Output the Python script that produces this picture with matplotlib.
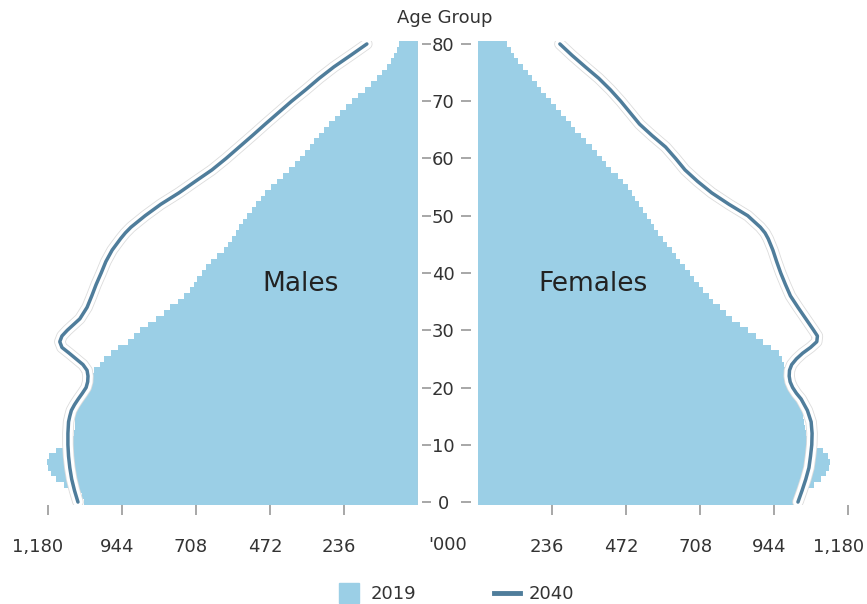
import matplotlib
matplotlib.use("Agg")
import matplotlib.pyplot as plt
import matplotlib.patheffects as pe
import matplotlib.transforms as mtransforms
from matplotlib.lines import Line2D

# ---------------- data ----------------
ages = list(range(0, 81))

males_2019 = [1065, 1070, 1085, 1130, 1155, 1170, 1180, 1182, 1175, 1155,
              1120, 1100, 1098, 1095, 1095, 1093, 1090, 1087, 1080, 1072,
              1062, 1052, 1042, 1032, 1015, 1000, 980, 955, 925, 905,
              885, 860, 835, 810, 790, 765, 745, 728, 715, 705,
              690, 675, 660, 640, 620, 605, 592, 580, 570, 558,
              545, 530, 515, 500, 488, 470, 450, 430, 410, 392,
              375, 360, 345, 330, 315, 300, 285, 265, 250, 230,
              210, 190, 170, 150, 130, 115, 100, 85, 75, 68, 61]

females_2019 = [1010, 1015, 1030, 1070, 1095, 1110, 1120, 1122, 1115, 1100,
                1070, 1048, 1045, 1043, 1040, 1036, 1032, 1027, 1020, 1012,
                1005, 998, 990, 983, 976, 968, 958, 935, 910, 885,
                860, 835, 810, 790, 770, 750, 735, 718, 705, 690,
                675, 660, 645, 632, 618, 603, 590, 575, 562, 550,
                538, 525, 512, 500, 490, 478, 462, 445, 425, 408,
                395, 380, 362, 345, 328, 310, 295, 280, 265, 250,
                232, 218, 202, 188, 172, 158, 142, 128, 115, 105, 92]

line_ages = [0, 2, 4, 6, 8, 10, 12, 14, 15, 16, 17, 18, 19, 20, 21, 22, 23, 24,
             25, 26, 27, 28, 29, 30, 32, 34, 36, 38, 40, 42, 44, 46, 47, 48, 50,
             52, 54, 56, 58, 60, 62, 64, 66, 68, 70, 72, 74, 76, 78, 80]

males_2040 = [1084, 1095, 1104, 1110, 1114, 1116, 1116, 1114, 1110, 1105, 1095, 1083, 1070, 1058, 1053, 1052, 1055, 1068,
              1090, 1112, 1135, 1142, 1135, 1118, 1078, 1055, 1040, 1026, 1010, 995, 975, 948, 933, 915, 870,
              820, 762, 710, 657, 612, 570, 528, 487, 445, 403, 358, 315, 268, 215, 163]

females_2040 = [1020, 1033, 1045, 1055, 1060, 1064, 1065, 1062, 1056, 1050, 1040, 1030, 1015, 1003, 995, 992, 993, 1000,
                1015, 1035, 1060, 1080, 1082, 1070, 1045, 1020, 996, 980, 965, 952, 940, 925, 915, 900, 860,
                800, 745, 700, 660, 630, 598, 555, 515, 485, 455, 422, 385, 342, 300, 261]

xticks = [236, 472, 708, 944, 1180]
xtick_labels = ["236", "472", "708", "944", "1,180"]
yticks = [0, 10, 20, 30, 40, 50, 60, 70, 80]

# ---------------- style ----------------
BAR = "#9bcfe6"
LINE = "#4f7d9b"
TXT = "#333333"
TICK = "#a0a0a0"
plt.rcParams["font.family"] = ["DejaVu Sans"]

W, H = 867, 604
fig = plt.figure(figsize=(W / 100, H / 100), dpi=100)

y0_px, y1_px = 504.9, 41.1
bottom = (H - y0_px) / H
height = (y0_px - y1_px) / H
xmax = 1205

axL = fig.add_axes([40 / W, bottom, 378 / W, height])
axR = fig.add_axes([478 / W, bottom, 378 / W, height])

outline = [pe.Stroke(linewidth=8.2, foreground="#dcdcdc"),
           pe.Stroke(linewidth=7.0, foreground="white"),
           pe.Normal()]

for ax, bars, line in ((axL, males_2019, males_2040), (axR, females_2019, females_2040)):
    ax.barh(ages, bars, height=1.0, color=BAR, edgecolor="none", zorder=1)
    ax.plot(line, line_ages, color=LINE, lw=2.5, solid_capstyle="round",
            solid_joinstyle="round", path_effects=outline, zorder=3)
    ax.set_ylim(-0.5, 80.5)
    for s in ax.spines.values():
        s.set_visible(False)
    ax.set_xticks(xticks)
    ax.set_xticklabels(xtick_labels)
    ax.tick_params(axis="x", direction="out", length=7, width=1.3, color=TICK,
                   pad=17, labelsize=13, labelcolor=TXT)
    ax.set_yticks(yticks)
    for lab in ax.get_xticklabels():
        dx = -10 if lab.get_text() == "1,180" else -5
        lab.set_transform(lab.get_transform() +
                          mtransforms.ScaledTranslation(dx / 100, 0, fig.dpi_scale_trans))

axL.set_xlim(xmax, 0)
axR.set_xlim(0, xmax)

# left panel: ticks on right side, no labels
axL.yaxis.tick_right()
axL.spines["right"].set_position(("outward", 3))
axL.tick_params(axis="y", direction="out", length=6.5, width=1.3, color=TICK, labelright=False)
axL.axvline(0, color="#b8c8d0", lw=1.0, zorder=2)

# right panel: ticks on left side, centered labels
axR.spines["left"].set_position(("outward", 5))
axR.tick_params(axis="y", direction="out", length=7.2, width=1.3, color=TICK,
                pad=13, labelsize=13, labelcolor=TXT)
for lab in axR.get_yticklabels():
    lab.set_horizontalalignment("center")

axL.text(373, 38.1, "Males", ha="center", va="center", fontsize=19, color="#222222", zorder=4)
axR.text(367, 38.1, "Females", ha="center", va="center", fontsize=19, color="#222222", zorder=4)

fig.text(445 / W, 1 - 18 / H, "Age Group", ha="center", va="center", fontsize=13, color=TXT)
fig.text(448 / W, 1 - 545 / H, "'000", ha="center", va="center", fontsize=13, color=TXT)

handles = [Line2D([], [], marker="s", markersize=14, color=BAR, linestyle="none"),
           Line2D([], [], color=LINE, lw=3.5)]
fig.legend(handles, ["2019", "2040"], loc="center", bbox_to_anchor=(455 / W, 1 - 594 / H),
           ncol=2, frameon=False, fontsize=13, handlelength=1.45, handletextpad=0.5,
           columnspacing=4.3, borderpad=0, labelcolor=TXT)

fig.savefig("out.png", dpi=100)
